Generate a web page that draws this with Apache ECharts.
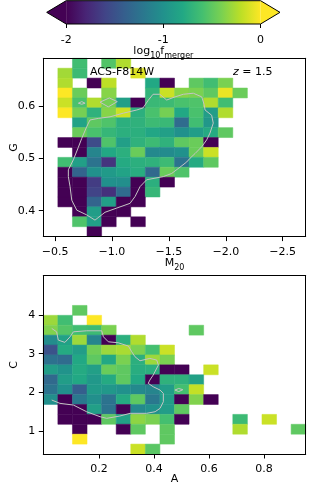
<!DOCTYPE html>
<html><head><meta charset="utf-8">
<script src="https://cdn.jsdelivr.net/npm/echarts@6/dist/echarts.min.js"></script>
<style>html,body{margin:0;padding:0;background:#fff}#c{width:312px;height:489px}</style>
</head><body><div id="c"></div>
<script>
const N = null;
// bin-grid extents (first edge -> last edge, as drawn left->right / top->bottom)
const m20Range = [-0.397, -2.702];
const gRange = [0.6906, 0.3506];
const aRange = [-0.0025, 0.9516];
const cRange = [5.02, 0.405];
const m20Ticks = [-2.5, -2.0, -1.5, -1.0, -0.5];
const gTicks = [0.4, 0.5, 0.6];
const aTicks = [0.2, 0.4, 0.6, 0.8];
const cTicks = [1, 2, 3, 4];
const cbTicks = [-2, -1, 0];

// log10 f_merger in G–M20 bins (rows from high G to low G, columns from M20=-0.4 to -2.7)
const gmGrid = [
  [N,N,-0.62,N,-0.55,-0.24,N,N,N,N,N,N,N,N,N,N,N,N],
  [N,-0.28,-0.64,N,N,N,-0.1,N,N,N,N,N,N,N,N,N,N,N],
  [N,-0.24,N,-2.5,-0.2,N,N,-0.8,-2.5,N,-0.5,-0.62,-0.4,N,N,N,N,N],
  [N,0.1,-0.46,N,-0.36,N,N,-0.7,-0.16,-0.36,-0.4,-0.5,-0.06,-0.46,N,N,N,N],
  [N,-0.16,-0.58,-0.24,-0.42,-0.88,-2.5,-0.66,-0.64,-0.58,-0.56,-0.24,-0.62,N,N,N,N,N],
  [N,0.1,-0.42,-0.72,-0.36,-0.16,-0.74,-0.58,-0.42,-0.8,-0.58,-0.9,-0.24,N,N,N,N,N],
  [N,N,-0.84,-0.5,-0.56,-0.74,-0.72,-0.64,-0.66,-1.3,-0.62,-0.95,N,N,N,N,N,N],
  [N,N,-0.46,-0.58,-0.68,-0.74,-0.74,-0.82,-0.88,-1.0,-0.9,-0.78,-0.5,N,N,N,N,N],
  [N,-2.5,-2.5,-1.55,-0.56,-0.88,-0.72,-0.64,-0.72,-0.5,-0.46,-2.5,N,N,N,N,N,N],
  [N,N,-2.5,-1.1,-0.8,-0.74,-0.46,-1.06,-1.05,-1.0,-0.46,-0.16,N,N,N,N,N,N],
  [N,-0.62,-0.88,-1.24,-1.7,-0.78,-0.74,-0.72,-0.64,-1.24,-0.78,-0.5,N,N,N,N,N,N],
  [N,-2.5,-1.36,-1.0,-0.92,-0.84,-0.76,-1.32,-0.46,-0.56,N,N,N,N,N,N,N,N],
  [N,-2.5,-2.5,-1.65,-1.0,-1.02,-2.5,-0.74,-2.5,N,N,N,N,N,N,N,N,N],
  [N,-2.5,-2.5,-1.6,-1.72,-1.3,-2.5,-0.68,N,N,N,N,N,N,N,N,N,N],
  [N,-2.5,-2.5,-1.36,-0.88,-2.5,-2.5,N,N,N,N,N,N,N,N,N,N,N],
  [N,N,-2.5,-0.9,-2.5,-2.5,N,N,N,N,N,N,N,N,N,N,N,N],
  [N,N,-0.56,-0.88,-2.5,N,-2.5,N,N,N,N,N,N,N,N,N,N,N],
  [N,N,N,-2.5,N,N,N,N,N,N,N,N,N,N,N,N,N,N]
];

// log10 f_merger in C–A bins (rows from high C to low C, columns from A=0 to 0.95)
const caGrid = [
  [N,N,N,N,N,N,N,N,N,N,N,N,N,N,N,N,N,N],
  [N,N,N,N,N,N,N,N,N,N,N,N,N,N,N,N,N,N],
  [N,N,N,N,N,N,N,N,N,N,N,N,N,N,N,N,N,N],
  [N,N,-0.5,N,N,N,N,N,N,N,N,N,N,N,N,N,N,N],
  [-0.3,-0.62,N,0.1,N,N,N,N,N,N,N,N,N,N,N,N,N,N],
  [-0.38,-0.54,-0.62,-0.64,-0.4,N,N,N,N,N,-0.5,N,N,N,N,N,N,N],
  [-1.04,-0.86,-0.3,-1.1,-2.5,-0.74,-0.24,N,N,N,N,N,N,N,N,N,N,N],
  [-1.5,-0.78,-0.9,-0.44,-0.3,-0.26,-0.4,-0.6,-0.16,N,N,N,N,N,N,N,N,N],
  [-1.26,-1.3,-0.8,-0.5,-0.8,-0.4,-0.74,-0.3,-0.4,N,N,N,N,N,N,N,N,N],
  [-0.9,-0.98,-0.78,-0.88,-0.46,-0.5,-0.76,-0.74,-2.5,-2.5,N,-0.16,N,N,N,N,N,N],
  [-1.32,-0.9,-0.8,-0.94,-0.78,-0.5,-0.8,-2.5,-0.72,-0.72,-0.86,N,N,N,N,N,N,N],
  [-1.24,-1.0,-1.4,-0.92,-0.94,-1.0,-1.06,-1.1,-0.9,-0.6,-0.18,N,N,N,N,N,N,N],
  [-1.02,-2.5,-1.2,-1.02,-1.24,-0.78,-0.5,-1.2,-0.9,-2.5,-0.38,-2.5,N,N,N,N,N,N],
  [N,-2.5,-2.5,-0.88,-1.24,-2.5,-1.06,-1.0,-0.9,-0.5,N,N,N,N,N,N,N,N],
  [N,-2.5,-2.5,-2.5,-0.5,-0.86,-0.34,-0.4,-0.6,-2.5,N,N,N,-0.64,N,-0.16,N,N],
  [N,N,-2.5,N,N,-2.5,-0.5,N,-0.5,N,N,N,N,-0.24,N,N,N,-0.5],
  [N,N,0.1,N,N,N,N,N,-0.5,N,N,N,N,N,N,N,N,N],
  [N,N,N,N,N,N,-0.16,-0.52,N,N,N,N,N,N,N,N,N,N]
];

// density contours [M20, G]
const gmContour = [[-0.851,0.382],[-0.778,0.392],[-0.691,0.401],[-0.647,0.420],[-0.632,0.446],[-0.617,0.465],[-0.617,0.478],[-0.661,0.497],[-0.705,0.521],[-0.735,0.538],[-0.778,0.560],[-0.807,0.573],[-0.880,0.576],[-0.983,0.579],[-1.100,0.586],[-1.218,0.592],[-1.273,0.596],[-1.317,0.610],[-1.361,0.622],[-1.420,0.622],[-1.481,0.611],[-1.554,0.617],[-1.627,0.622],[-1.715,0.624],[-1.789,0.617],[-1.809,0.603],[-1.818,0.592],[-1.876,0.582],[-1.890,0.567],[-1.861,0.548],[-1.832,0.535],[-1.789,0.522],[-1.730,0.509],[-1.686,0.500],[-1.657,0.493],[-1.598,0.483],[-1.525,0.471],[-1.451,0.465],[-1.378,0.462],[-1.305,0.459],[-1.247,0.446],[-1.203,0.427],[-1.159,0.414],[-1.042,0.405],[-0.939,0.397],[-0.851,0.382]];
const gmIslandA = [[-0.895,0.607],[-0.977,0.615],[-1.047,0.608],[-0.968,0.598],[-0.895,0.607]];
const gmIslandB = [[-0.705,0.605],[-0.735,0.608],[-0.764,0.605],[-0.735,0.603],[-0.705,0.605]];
// density contours [A, C]
const caContour = [[0.028,3.656],[0.046,3.568],[0.052,3.353],[0.076,3.294],[0.095,3.439],[0.107,3.568],[0.155,3.594],[0.210,3.594],[0.216,3.439],[0.234,3.309],[0.270,3.284],[0.307,3.198],[0.319,3.051],[0.331,2.922],[0.349,2.818],[0.385,2.880],[0.410,2.836],[0.416,2.707],[0.397,2.448],[0.385,2.319],[0.379,2.234],[0.397,2.146],[0.422,2.060],[0.434,1.975],[0.434,1.758],[0.422,1.587],[0.404,1.499],[0.373,1.458],[0.313,1.458],[0.276,1.388],[0.228,1.328],[0.204,1.370],[0.155,1.499],[0.107,1.672],[0.058,1.716],[0.028,1.802]];
const caIsland = [[0.476,2.06],[0.49,2.10],[0.505,2.07],[0.49,2.02],[0.476,2.06]];

const viridis = ['#440154','#482475','#414487','#355f8d','#2a788e','#21918c','#22a884','#44bf70','#7ad151','#bddf26','#fde725'];
const FF = 'DejaVu Sans';

function cells(grid, xr, yr) {
  const out = [];
  const nr = grid.length, nc = grid[0].length;
  const dx = (xr[1] - xr[0]) / nc, dy = (yr[1] - yr[0]) / nr;
  grid.forEach((row, j) => row.forEach((v, k) => {
    if (v === null) return;
    out.push([xr[0] + k * dx, xr[0] + (k + 1) * dx, yr[0] + j * dy, yr[0] + (j + 1) * dy,
      Math.max(cbTicks[0], Math.min(cbTicks[2], v)), v]);
  }));
  return out;
}
function renderCell(params, api) {
  const p0 = api.coord([api.value(0), api.value(2)]);
  const p1 = api.coord([api.value(1), api.value(3)]);
  const c = api.visual('color');
  return {type: 'rect', shape: {x: Math.min(p0[0], p1[0]), y: Math.min(p0[1], p1[1]),
    width: Math.abs(p1[0] - p0[0]), height: Math.abs(p1[1] - p0[1])},
    style: {fill: c, stroke: c, lineWidth: 0.5}};
}
const minusFmt = d => v => (v < 0 ? '\u2212' : '') + Math.abs(v).toFixed(d);
const tickFont = {fontFamily: FF, fontSize: 11, color: '#000'};
function mainAxes(gi, range, ticks, fmt, isX, inverse, name, nameGap, rich) {
  const lo = Math.min(...range), hi = Math.max(...range);
  const base = {gridIndex: gi, type: 'value', min: lo, max: hi, inverse: inverse, z: 10,
    splitLine: {show: false}};
  const a = Object.assign({}, base, {
    position: isX ? 'bottom' : 'left',
    axisLine: {show: true, onZero: false, lineStyle: {color: '#000', width: 1}},
    axisTick: {show: true, length: 4.5, customValues: ticks, lineStyle: {color: '#000', width: 1}},
    axisLabel: Object.assign({customValues: ticks, formatter: fmt, margin: isX ? 10 : 8, hideOverlap: false}, tickFont),
    name: name, nameLocation: 'middle', nameGap: nameGap, nameRotate: isX ? 0 : 90, nameMoveOverlap: false,
    nameTextStyle: {fontFamily: FF, fontSize: 11, color: '#000', rich: rich}
  });
  const b = Object.assign({}, base, {
    position: isX ? 'top' : 'right',
    axisLine: {show: true, onZero: false, lineStyle: {color: '#000', width: 1}},
    axisTick: {show: false}, axisLabel: {show: false}
  });
  return [a, b];
}
const subRich = {
  m: {fontFamily: FF, fontSize: 11, color: '#000', lineHeight: 14, verticalAlign: 'top'},
  s: {fontFamily: FF, fontSize: 8, color: '#000', lineHeight: 8, verticalAlign: 'bottom'}
};

const [x0a, x0b] = mainAxes(0, m20Range, m20Ticks, minusFmt(1), true, true, '{m|M}{s|20}', 21, subRich);
const [y0a, y0b] = mainAxes(0, gRange, gTicks, minusFmt(1), false, false, 'G', 24, subRich);
const [x1a, x1b] = mainAxes(1, aRange, aTicks, minusFmt(1), true, false, 'A', 20, subRich);
const [y1a, y1b] = mainAxes(1, cRange, cTicks, v => String(v), false, false, 'C', 24, subRich);

const cbExt = 0.2;
const option = {
  animation: false,
  backgroundColor: '#fff',
  title: [
    {text: 'ACS-F814W', left: 90, top: 67, padding: 0,
      textStyle: {fontFamily: FF, fontSize: 11, fontWeight: 'normal', color: '#000'}},
    {text: '{i|z} = 1.5', left: 233, top: 67, padding: 0,
      textStyle: {fontFamily: FF, fontSize: 11, fontWeight: 'normal', color: '#000',
        rich: {i: {fontFamily: FF, fontSize: 11, fontStyle: 'italic', color: '#000'}}}}
  ],
  grid: [
    {left: 43.3, right: 6.3, top: 58.3, height: 178.3, outerBoundsMode: 'none', containLabel: false},
    {left: 43.3, right: 6.3, top: 275.7, height: 178.3, outerBoundsMode: 'none', containLabel: false},
    {left: 46.7, right: 32, top: 0.7, height: 23.3, outerBoundsMode: 'none', containLabel: false}
  ],
  visualMap: {type: 'continuous', show: false, min: cbTicks[0], max: cbTicks[2], dimension: 4,
    seriesIndex: [0, 1], inRange: {color: viridis}},
  xAxis: [x0a, x0b, x1a, x1b,
    {gridIndex: 2, type: 'value', min: cbTicks[0] - cbExt, max: cbTicks[2] + cbExt, position: 'bottom',
      splitLine: {show: false}, axisLine: {show: false},
      axisTick: {show: true, length: 4, customValues: cbTicks, lineStyle: {color: '#000'}},
      axisLabel: Object.assign({customValues: cbTicks, margin: 11, formatter: v => String(v)}, tickFont),
      name: '{m|log}{s|10}{m|f}{s|merger}', nameLocation: 'middle', nameGap: 22, nameMoveOverlap: false,
      nameTextStyle: {rich: subRich}}],
  yAxis: [y0a, y0b, y1a, y1b,
    {gridIndex: 2, type: 'value', min: 0, max: 1, show: false}],
  series: [
    {type: 'custom', xAxisIndex: 0, yAxisIndex: 0, data: cells(gmGrid, m20Range, gRange),
      dimensions: ['x0', 'x1', 'y0', 'y1', 'vc', 'v'], encode: {x: [0, 1], y: [2, 3]},
      renderItem: renderCell, z: 2, silent: true},
    {type: 'custom', xAxisIndex: 2, yAxisIndex: 2, data: cells(caGrid, aRange, cRange),
      dimensions: ['x0', 'x1', 'y0', 'y1', 'vc', 'v'], encode: {x: [0, 1], y: [2, 3]},
      renderItem: renderCell, z: 2, silent: true},
    ...[gmContour, gmIslandA, gmIslandB].map(d => ({type: 'line', xAxisIndex: 0, yAxisIndex: 0, data: d,
      symbol: 'none', lineStyle: {color: '#c4c4c4', width: 1}, z: 5, silent: true})),
    ...[caContour, caIsland].map(d => ({type: 'line', xAxisIndex: 2, yAxisIndex: 2, data: d,
      symbol: 'none', lineStyle: {color: '#c4c4c4', width: 1}, z: 5, silent: true})),
    {type: 'custom', xAxisIndex: 4, yAxisIndex: 4, data: [[cbTicks[0], cbTicks[2]]], silent: true, clip: false,
      renderItem: (params, api) => {
        const lo = api.value(0), hi = api.value(1);
        const tl = api.coord([lo, 1]), br = api.coord([hi, 0]);
        const lt = api.coord([lo - cbExt, 0.5]), rt = api.coord([hi + cbExt, 0.5]);
        const stops = viridis.map((c, i) => ({offset: i / (viridis.length - 1), color: c}));
        return {type: 'group', children: [
          {type: 'rect', shape: {x: tl[0], y: tl[1], width: br[0] - tl[0], height: br[1] - tl[1]},
            style: {fill: new echarts.graphic.LinearGradient(0, 0, 1, 0, stops)}},
          {type: 'polygon', shape: {points: [[tl[0], tl[1]], [lt[0], lt[1]], [tl[0], br[1]]]},
            style: {fill: viridis[0]}},
          {type: 'polygon', shape: {points: [[br[0], tl[1]], [rt[0], rt[1]], [br[0], br[1]]]},
            style: {fill: viridis[viridis.length - 1]}},
          {type: 'polygon', shape: {points: [[tl[0], tl[1]], [br[0], tl[1]], [rt[0], rt[1]], [br[0], br[1]],
            [tl[0], br[1]], [lt[0], lt[1]]]}, style: {fill: null, stroke: '#000', lineWidth: 1}}
        ]};
      }}
  ]
};
const chart = echarts.init(document.getElementById('c'), null, {renderer: 'canvas'});
chart.setOption(option);
</script></body></html>
